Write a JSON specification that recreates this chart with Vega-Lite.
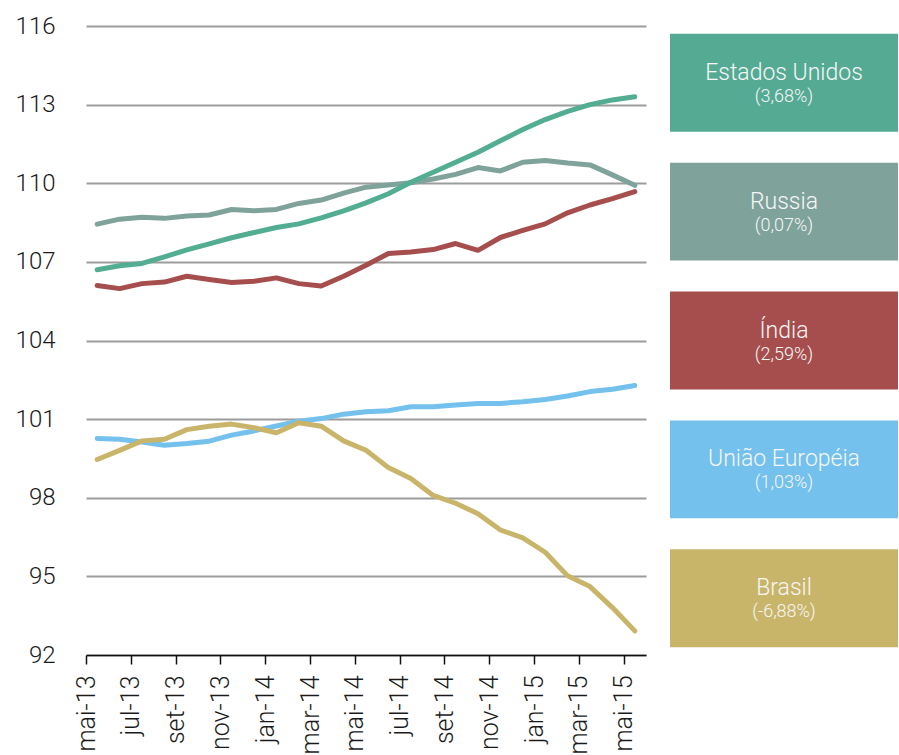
{
  "$schema": "https://vega.github.io/schema/vega-lite/v6.json",
  "padding": {"left": 15, "top": 14, "right": 0, "bottom": 0},
  "background": "white",
  "config": {"view": {"stroke": null}, "font": "Roboto"},
  "hconcat": [
    {
      "width": 560,
      "height": 629,
      "data": {"values": [
        {"mes": "mai-13", "serie": "Russia", "valor": 108.44}, {"mes": "jun-13", "serie": "Russia", "valor": 108.63}, {"mes": "jul-13", "serie": "Russia", "valor": 108.70}, {"mes": "ago-13", "serie": "Russia", "valor": 108.66}, {"mes": "set-13", "serie": "Russia", "valor": 108.75}, {"mes": "out-13", "serie": "Russia", "valor": 108.79}, {"mes": "nov-13", "serie": "Russia", "valor": 109.00}, {"mes": "dez-13", "serie": "Russia", "valor": 108.95}, {"mes": "jan-14", "serie": "Russia", "valor": 109.00}, {"mes": "fev-14", "serie": "Russia", "valor": 109.23}, {"mes": "mar-14", "serie": "Russia", "valor": 109.36}, {"mes": "abr-14", "serie": "Russia", "valor": 109.62}, {"mes": "mai-14", "serie": "Russia", "valor": 109.85}, {"mes": "jun-14", "serie": "Russia", "valor": 109.93}, {"mes": "jul-14", "serie": "Russia", "valor": 110.02}, {"mes": "ago-14", "serie": "Russia", "valor": 110.16}, {"mes": "set-14", "serie": "Russia", "valor": 110.34}, {"mes": "out-14", "serie": "Russia", "valor": 110.60}, {"mes": "nov-14", "serie": "Russia", "valor": 110.47}, {"mes": "dez-14", "serie": "Russia", "valor": 110.80}, {"mes": "jan-15", "serie": "Russia", "valor": 110.87}, {"mes": "fev-15", "serie": "Russia", "valor": 110.77}, {"mes": "mar-15", "serie": "Russia", "valor": 110.70}, {"mes": "abr-15", "serie": "Russia", "valor": 110.32}, {"mes": "mai-15", "serie": "Russia", "valor": 109.92},
        {"mes": "mai-13", "serie": "Estados Unidos", "valor": 106.70}, {"mes": "jun-13", "serie": "Estados Unidos", "valor": 106.85}, {"mes": "jul-13", "serie": "Estados Unidos", "valor": 106.94}, {"mes": "ago-13", "serie": "Estados Unidos", "valor": 107.19}, {"mes": "set-13", "serie": "Estados Unidos", "valor": 107.46}, {"mes": "out-13", "serie": "Estados Unidos", "valor": 107.69}, {"mes": "nov-13", "serie": "Estados Unidos", "valor": 107.92}, {"mes": "dez-13", "serie": "Estados Unidos", "valor": 108.12}, {"mes": "jan-14", "serie": "Estados Unidos", "valor": 108.31}, {"mes": "fev-14", "serie": "Estados Unidos", "valor": 108.45}, {"mes": "mar-14", "serie": "Estados Unidos", "valor": 108.68}, {"mes": "abr-14", "serie": "Estados Unidos", "valor": 108.95}, {"mes": "mai-14", "serie": "Estados Unidos", "valor": 109.25}, {"mes": "jun-14", "serie": "Estados Unidos", "valor": 109.60}, {"mes": "jul-14", "serie": "Estados Unidos", "valor": 110.04}, {"mes": "ago-14", "serie": "Estados Unidos", "valor": 110.42}, {"mes": "set-14", "serie": "Estados Unidos", "valor": 110.80}, {"mes": "out-14", "serie": "Estados Unidos", "valor": 111.18}, {"mes": "nov-14", "serie": "Estados Unidos", "valor": 111.62}, {"mes": "dez-14", "serie": "Estados Unidos", "valor": 112.05}, {"mes": "jan-15", "serie": "Estados Unidos", "valor": 112.43}, {"mes": "fev-15", "serie": "Estados Unidos", "valor": 112.74}, {"mes": "mar-15", "serie": "Estados Unidos", "valor": 113.00}, {"mes": "abr-15", "serie": "Estados Unidos", "valor": 113.18}, {"mes": "mai-15", "serie": "Estados Unidos", "valor": 113.30},
        {"mes": "mai-13", "serie": "Índia", "valor": 106.10}, {"mes": "jun-13", "serie": "Índia", "valor": 105.98}, {"mes": "jul-13", "serie": "Índia", "valor": 106.17}, {"mes": "ago-13", "serie": "Índia", "valor": 106.23}, {"mes": "set-13", "serie": "Índia", "valor": 106.45}, {"mes": "out-13", "serie": "Índia", "valor": 106.33}, {"mes": "nov-13", "serie": "Índia", "valor": 106.21}, {"mes": "dez-13", "serie": "Índia", "valor": 106.26}, {"mes": "jan-14", "serie": "Índia", "valor": 106.39}, {"mes": "fev-14", "serie": "Índia", "valor": 106.17}, {"mes": "mar-14", "serie": "Índia", "valor": 106.08}, {"mes": "abr-14", "serie": "Índia", "valor": 106.45}, {"mes": "mai-14", "serie": "Índia", "valor": 106.87}, {"mes": "jun-14", "serie": "Índia", "valor": 107.32}, {"mes": "jul-14", "serie": "Índia", "valor": 107.38}, {"mes": "ago-14", "serie": "Índia", "valor": 107.47}, {"mes": "set-14", "serie": "Índia", "valor": 107.70}, {"mes": "out-14", "serie": "Índia", "valor": 107.44}, {"mes": "nov-14", "serie": "Índia", "valor": 107.93}, {"mes": "dez-14", "serie": "Índia", "valor": 108.20}, {"mes": "jan-15", "serie": "Índia", "valor": 108.45}, {"mes": "fev-15", "serie": "Índia", "valor": 108.87}, {"mes": "mar-15", "serie": "Índia", "valor": 109.17}, {"mes": "abr-15", "serie": "Índia", "valor": 109.41}, {"mes": "mai-15", "serie": "Índia", "valor": 109.68},
        {"mes": "mai-13", "serie": "União Européia", "valor": 100.26}, {"mes": "jun-13", "serie": "União Européia", "valor": 100.23}, {"mes": "jul-13", "serie": "União Européia", "valor": 100.13}, {"mes": "ago-13", "serie": "União Européia", "valor": 100.00}, {"mes": "set-13", "serie": "União Européia", "valor": 100.07}, {"mes": "out-13", "serie": "União Européia", "valor": 100.16}, {"mes": "nov-13", "serie": "União Européia", "valor": 100.39}, {"mes": "dez-13", "serie": "União Européia", "valor": 100.55}, {"mes": "jan-14", "serie": "União Européia", "valor": 100.74}, {"mes": "fev-14", "serie": "União Européia", "valor": 100.92}, {"mes": "mar-14", "serie": "União Européia", "valor": 101.02}, {"mes": "abr-14", "serie": "União Européia", "valor": 101.19}, {"mes": "mai-14", "serie": "União Européia", "valor": 101.28}, {"mes": "jun-14", "serie": "União Européia", "valor": 101.32}, {"mes": "jul-14", "serie": "União Européia", "valor": 101.47}, {"mes": "ago-14", "serie": "União Européia", "valor": 101.47}, {"mes": "set-14", "serie": "União Européia", "valor": 101.54}, {"mes": "out-14", "serie": "União Européia", "valor": 101.60}, {"mes": "nov-14", "serie": "União Européia", "valor": 101.60}, {"mes": "dez-14", "serie": "União Européia", "valor": 101.66}, {"mes": "jan-15", "serie": "União Européia", "valor": 101.75}, {"mes": "fev-15", "serie": "União Européia", "valor": 101.88}, {"mes": "mar-15", "serie": "União Européia", "valor": 102.05}, {"mes": "abr-15", "serie": "União Européia", "valor": 102.14}, {"mes": "mai-15", "serie": "União Européia", "valor": 102.28},
        {"mes": "mai-13", "serie": "Brasil", "valor": 99.46}, {"mes": "jun-13", "serie": "Brasil", "valor": 99.81}, {"mes": "jul-13", "serie": "Brasil", "valor": 100.17}, {"mes": "ago-13", "serie": "Brasil", "valor": 100.23}, {"mes": "set-13", "serie": "Brasil", "valor": 100.60}, {"mes": "out-13", "serie": "Brasil", "valor": 100.73}, {"mes": "nov-13", "serie": "Brasil", "valor": 100.81}, {"mes": "dez-13", "serie": "Brasil", "valor": 100.67}, {"mes": "jan-14", "serie": "Brasil", "valor": 100.48}, {"mes": "fev-14", "serie": "Brasil", "valor": 100.86}, {"mes": "mar-14", "serie": "Brasil", "valor": 100.73}, {"mes": "abr-14", "serie": "Brasil", "valor": 100.17}, {"mes": "mai-14", "serie": "Brasil", "valor": 99.81}, {"mes": "jun-14", "serie": "Brasil", "valor": 99.15}, {"mes": "jul-14", "serie": "Brasil", "valor": 98.73}, {"mes": "ago-14", "serie": "Brasil", "valor": 98.09}, {"mes": "set-14", "serie": "Brasil", "valor": 97.79}, {"mes": "out-14", "serie": "Brasil", "valor": 97.39}, {"mes": "nov-14", "serie": "Brasil", "valor": 96.77}, {"mes": "dez-14", "serie": "Brasil", "valor": 96.47}, {"mes": "jan-15", "serie": "Brasil", "valor": 95.92}, {"mes": "fev-15", "serie": "Brasil", "valor": 95.02}, {"mes": "mar-15", "serie": "Brasil", "valor": 94.61}, {"mes": "abr-15", "serie": "Brasil", "valor": 93.81}, {"mes": "mai-15", "serie": "Brasil", "valor": 92.92}
      ]},
      "mark": {"type": "line", "strokeWidth": 5, "strokeCap": "round", "strokeJoin": "round"},
      "encoding": {
        "x": {
          "field": "mes", "type": "ordinal",
          "scale": {"type": "band", "paddingInner": 0, "paddingOuter": 0,
            "domain": ["mai-13","jun-13","jul-13","ago-13","set-13","out-13","nov-13","dez-13","jan-14","fev-14","mar-14","abr-14","mai-14","jun-14","jul-14","ago-14","set-14","out-14","nov-14","dez-14","jan-15","fev-15","mar-15","abr-15","mai-15"]},
          "axis": {
            "title": null,
            "values": ["mai-13","jul-13","set-13","nov-13","jan-14","mar-14","mai-14","jul-14","set-14","nov-14","jan-15","mar-15","mai-15"],
            "labelAngle": -90, "labelAlign": "right", "labelBaseline": "middle",
            "labelFontSize": 25, "labelColor": "#1a1a1a", "labelFont": "Roboto", "labelFontWeight": 300,
            "labelPadding": 11,
            "tickOffset": -11.2, "tickSize": 9, "tickWidth": 1.5, "tickColor": "#111",
            "domainColor": "#111", "domainWidth": 1.5, "grid": false
          }
        },
        "y": {
          "field": "valor", "type": "quantitative",
          "scale": {"domain": [92, 116], "zero": false, "nice": false},
          "axis": {
            "title": null, "values": [92, 95, 98, 101, 104, 107, 110, 113, 116],
            "domain": false, "ticks": false, "tickSize": 0, "labelPadding": 31,
            "labelFontSize": 24, "labelColor": "#1a1a1a", "labelFont": "Roboto", "labelFontWeight": 300,
            "grid": true, "gridColor": "#9c9c9c", "gridWidth": 2
          }
        },
        "color": {
          "field": "serie", "type": "nominal",
          "scale": {"domain": ["Estados Unidos", "Russia", "Índia", "União Européia", "Brasil"],
                    "range": ["#52AD92", "#7FA39B", "#A54E4D", "#73C1EC", "#C9B56A"]},
          "legend": null
        }
      }
    },
    {
      "width": 228,
      "height": 629,
      "data": {"values": [
        {"serie": "Estados Unidos", "pct": "(3,68%)"},
        {"serie": "Russia", "pct": "(0,07%)"},
        {"serie": "Índia", "pct": "(2,59%)"},
        {"serie": "União Européia", "pct": "(1,03%)"},
        {"serie": "Brasil", "pct": "(-6,88%)"}
      ]},
      "encoding": {
        "y": {
          "field": "serie", "type": "nominal", "sort": null,
          "scale": {"type": "band", "paddingInner": 0.24, "paddingOuter": 0.06},
          "axis": null
        }
      },
      "layer": [
        {
          "mark": {"type": "rect"},
          "encoding": {
            "color": {
              "field": "serie", "type": "nominal",
              "scale": {"domain": ["Estados Unidos", "Russia", "Índia", "União Européia", "Brasil"],
                        "range": ["#55AA94", "#7FA39B", "#A54E4D", "#73C1EC", "#C9B56A"]},
              "legend": null
            }
          }
        },
        {
          "mark": {"type": "text", "color": "#f6f6f6", "fontSize": 23, "font": "Roboto", "fontWeight": 300, "dy": -10, "baseline": "middle"},
          "encoding": {"text": {"field": "serie"}}
        },
        {
          "mark": {"type": "text", "color": "#f6f6f6", "fontSize": 18, "font": "Roboto", "fontWeight": 300, "dy": 14, "baseline": "middle"},
          "encoding": {"text": {"field": "pct"}}
        }
      ]
    }
  ],
  "spacing": 24,
  "bounds": "flush",
  "resolve": {"scale": {"color": "independent"}}
}
